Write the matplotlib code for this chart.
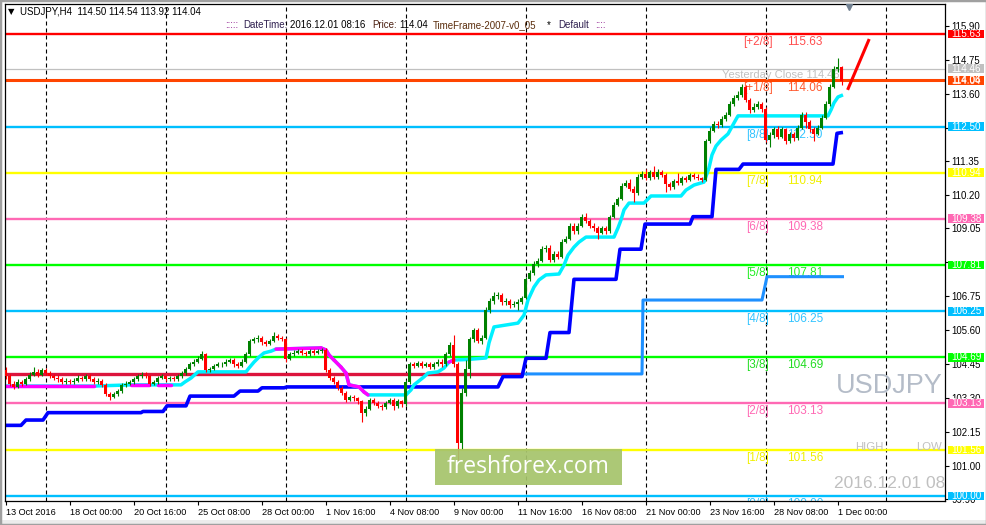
import numpy as np
import matplotlib.pyplot as plt
from matplotlib.collections import LineCollection
from matplotlib.patches import Rectangle

plt.rcParams['font.family'] = ['Liberation Sans', 'DejaVu Sans']

# ---- H4 candles, bar index counted from the first visible bar (13 Oct 2016) ----
first_open = 104.25
closes = [
    104.05, 103.80, 103.70, 103.85, 103.80, 103.95, 104.10, 104.20, 104.10, 104.25,
    104.15, 104.05, 104.00, 103.95, 103.85, 103.90, 103.85, 103.90, 104.00, 103.95,
    104.05, 103.95, 103.85, 103.90, 103.75, 103.45, 103.35, 103.45, 103.55, 103.75,
    103.80, 103.85, 103.95, 104.05, 104.10, 104.05, 103.80, 103.85, 104.00, 104.05,
    103.95, 104.00, 103.95, 104.05, 104.15, 104.30, 104.45, 104.55, 104.65, 104.80,
    104.25, 104.30, 104.40, 104.45, 104.45, 104.55, 104.60, 104.45, 104.40, 104.55,
    104.80, 105.25, 105.30, 105.35, 105.20, 105.15, 105.25, 105.40, 105.35, 105.30,
    104.65, 104.80, 104.85, 104.90, 104.85, 104.80, 104.90, 104.85, 104.90, 104.95,
    104.25, 104.00, 103.85, 103.65, 103.50, 103.25, 103.35, 103.30, 103.20, 102.80,
    102.95, 103.25, 103.15, 103.05, 103.00, 103.15, 103.25, 103.05, 103.20, 103.10,
    103.85, 104.45, 104.40, 104.50, 104.40, 104.45, 104.35, 104.45, 104.55, 104.45,
    104.80, 105.10, 104.45, 101.80, 103.50, 104.30, 105.30, 105.60, 105.25, 105.35,
    106.30, 106.60, 106.75, 106.80, 106.55, 106.60, 106.45, 106.50, 106.55, 106.70,
    107.35, 107.55, 107.85, 107.95, 108.35, 108.40, 108.00, 108.20, 108.10, 108.60,
    108.70, 109.15, 108.95, 109.15, 109.45, 109.30, 109.15, 109.05, 108.90, 109.05,
    108.95, 109.45, 109.85, 110.05, 110.50, 110.60, 110.40, 110.25, 110.80, 110.90,
    110.75, 110.95, 110.80, 110.95, 110.85, 110.55, 110.45, 110.65, 110.60, 110.75,
    110.70, 110.85, 110.80, 110.75, 110.70, 112.00, 112.35, 112.60, 112.55, 112.75,
    112.90, 113.25, 113.45, 113.55, 113.85, 113.40, 113.05, 113.15, 113.25, 113.10,
    112.05, 112.20, 112.40, 112.15, 112.40, 112.00, 112.25, 112.10, 112.45, 112.90,
    112.65, 112.40, 112.25, 112.45, 112.80, 113.25, 113.85, 114.45, 114.50, 114.04,
]
highs = [
    104.35, 104.12, 103.90, 103.95, 103.92, 104.02, 104.18, 104.38, 104.28, 104.32,
    104.33, 104.22, 104.12, 104.08, 104.02, 103.98, 103.97, 103.98, 104.08, 104.06,
    104.12, 104.12, 104.02, 103.98, 103.96, 103.82, 103.52, 103.52, 103.62, 103.82,
    103.88, 103.92, 104.02, 104.12, 104.20, 104.18, 104.10, 103.92, 104.06, 104.12,
    104.10, 104.07, 104.06, 104.12, 104.22, 104.37, 104.52, 104.62, 104.72, 104.90,
    104.85, 104.38, 104.47, 104.53, 104.52, 104.63, 104.68, 104.66, 104.52, 104.62,
    104.87, 105.32, 105.38, 105.45, 105.42, 105.27, 105.32, 105.55, 105.48, 105.42,
    105.36, 104.88, 104.93, 104.98, 104.96, 104.92, 104.97, 104.96, 104.98, 105.02,
    105.00, 104.32, 104.06, 103.92, 103.72, 103.56, 103.42, 103.42, 103.36, 103.26,
    103.04, 103.32, 103.33, 103.22, 103.12, 103.22, 103.33, 103.30, 103.27, 103.26,
    103.92, 104.55, 104.55, 104.58, 104.56, 104.53, 104.52, 104.52, 104.63, 104.62,
    104.88, 105.20, 105.45, 104.52, 103.65, 104.60, 105.38, 105.70, 105.68, 105.45,
    106.38, 106.70, 106.90, 106.90, 106.88, 106.70, 106.68, 106.60, 106.65, 106.78,
    107.42, 107.65, 107.95, 108.05, 108.45, 108.50, 108.48, 108.28, 108.28, 108.68,
    108.80, 109.22, 109.22, 109.23, 109.55, 109.58, 109.38, 109.22, 109.12, 109.12,
    109.12, 109.52, 109.93, 110.12, 110.60, 110.70, 110.72, 110.48, 110.90, 111.00,
    111.05, 111.03, 111.15, 111.05, 111.03, 110.92, 110.62, 110.72, 110.92, 110.82,
    110.82, 110.93, 110.92, 110.88, 110.80, 112.08, 112.50, 112.68, 112.70, 112.85,
    113.00, 113.35, 113.55, 113.70, 113.95, 113.92, 113.48, 113.30, 113.35, 113.32,
    113.15, 112.30, 112.50, 112.52, 112.48, 112.45, 112.33, 112.32, 112.55, 113.00,
    112.98, 112.72, 112.48, 112.55, 112.90, 113.35, 113.95, 114.55, 114.83, 114.54,
]
lows = [
    103.95, 103.72, 103.62, 103.65, 103.72, 103.75, 103.90, 104.05, 104.02, 104.05,
    104.08, 103.98, 103.92, 103.85, 103.78, 103.80, 103.78, 103.80, 103.85, 103.88,
    103.90, 103.88, 103.78, 103.80, 103.68, 103.38, 103.25, 103.30, 103.40, 103.50,
    103.70, 103.74, 103.80, 103.90, 104.00, 103.98, 103.72, 103.74, 103.80, 103.95,
    103.88, 103.90, 103.88, 103.90, 104.00, 104.10, 104.25, 104.40, 104.50, 104.60,
    104.18, 104.20, 104.25, 104.35, 104.38, 104.40, 104.50, 104.38, 104.33, 104.35,
    104.50, 104.75, 105.18, 105.22, 105.12, 105.08, 105.10, 105.20, 105.28, 105.24,
    104.55, 104.60, 104.74, 104.80, 104.78, 104.72, 104.74, 104.78, 104.80, 104.84,
    104.18, 103.92, 103.78, 103.58, 103.42, 103.18, 103.20, 103.22, 103.12, 102.50,
    102.72, 102.90, 103.08, 102.98, 102.92, 102.95, 103.10, 102.90, 102.98, 103.02,
    103.05, 103.80, 104.33, 104.35, 104.33, 104.35, 104.28, 104.30, 104.40, 104.38,
    104.40, 104.75, 104.38, 101.19, 101.60, 103.40, 104.00, 105.20, 105.18, 105.15,
    105.30, 106.20, 106.50, 106.65, 106.45, 106.45, 106.36, 106.38, 106.30, 106.48,
    106.65, 107.28, 107.48, 107.75, 107.90, 108.25, 107.92, 107.92, 108.02, 108.05,
    108.55, 108.65, 108.85, 108.88, 109.10, 109.22, 109.05, 108.96, 108.70, 108.85,
    108.88, 108.90, 109.40, 109.80, 110.00, 110.45, 110.32, 109.95, 110.20, 110.72,
    110.68, 110.68, 110.72, 110.72, 110.78, 110.30, 110.36, 110.40, 110.52, 110.52,
    110.62, 110.65, 110.72, 110.68, 110.62, 110.65, 111.95, 112.30, 112.45, 112.50,
    112.68, 112.85, 113.20, 113.40, 113.50, 113.32, 112.95, 112.98, 113.08, 113.00,
    111.96, 111.82, 112.12, 112.08, 112.10, 111.90, 111.95, 112.02, 112.05, 112.40,
    112.45, 112.32, 112.00, 112.20, 112.40, 112.75, 113.20, 113.80, 114.35, 113.92,
]

# ---- Murrey math levels ----
level_names = ['[+2/8]', '[+1/8]', '[8/8]', '[7/8]', '[6/8]', '[5/8]',
               '[4/8]', '[3/8]', '[2/8]', '[1/8]', '[0/8]']
level_prices = [115.63, 114.06, 112.50, 110.94, 109.38, 107.81,
                106.25, 104.69, 103.13, 101.56, 100.00]
level_colors = ['#ff0000', '#ff4500', '#00bfff', '#ffff00', '#ff69b4', '#00ff00',
                '#00bfff', '#00ff00', '#ff69b4', '#ffff00', '#00bfff']
label_colors = ['#ff4d4d', '#ff5a30', '#33c4ff', '#f0f000', '#ff69b4', '#22ee22',
                '#33c4ff', '#22dd22', '#ff69b4', '#f0f000', '#33c4ff']
level_widths = [1.7, 2.2, 1.7, 1.7, 1.7, 1.7, 1.7, 1.7, 1.7, 1.7, 1.7]

yesterday_close = 114.46
last_price = 114.04

# trailing line (cyan, magenta where flagged)
trail_bars = [0, 22, 31.25, 35.75, 38, 41.25, 43.75, 44.75, 46.25, 48, 60, 60.75, 62,
              63.25, 64.5, 66.25, 67.5, 78.75, 80, 80.75, 82, 83.75, 85, 85.75, 88.25,
              89.5, 90.5, 100, 101.25, 102, 104.5, 105.5, 108, 109.5, 110.75, 112, 115.5,
              120, 120.75, 122, 128, 129.5, 130.5, 132, 133.25, 135, 138.25, 139.5, 140.5,
              142, 143.25, 145, 152, 153, 153.75, 154.5, 155.75, 159.5, 161.25, 168.75,
              170, 172, 174.5, 175.75, 176.5, 177.5, 178.75, 180.5, 182, 183, 205.5,
              206.25, 207, 208, 209.25]
trail_prices = [103.72, 103.72, 103.76, 103.76, 103.76, 103.76, 103.76, 103.86, 103.99,
                104.20, 104.20, 104.33, 104.53, 104.70, 104.84, 104.90, 104.97, 105.01,
                104.94, 104.77, 104.60, 104.36, 104.16, 103.76, 103.69, 103.52, 103.42,
                103.42, 103.59, 103.76, 104.03, 104.16, 104.20, 104.33, 104.53, 104.60,
                104.62, 104.67, 105.18, 105.72, 105.85, 106.12, 106.63, 107.07, 107.31,
                107.48, 107.51, 107.81, 108.15, 108.42, 108.59, 108.76, 108.76, 109.07,
                109.34, 109.68, 109.91, 109.91, 110.15, 110.15, 110.35, 110.52, 110.62,
                111.10, 111.54, 111.84, 112.04, 112.25, 112.62, 112.86, 112.86, 113.06,
                113.30, 113.50, 113.57]
trail_down = [1, 0, 1, 0, 1, 0, 0, 0, 0, 0, 0, 0, 0, 0, 0, 0, 1, 1, 1, 1, 1, 1, 1,
              1, 1, 1, 0, 0, 0, 0, 0, 0, 0, 0, 1, 0, 0, 0, 0, 0, 0, 0, 0, 0, 0, 0, 0,
              0, 0, 0, 0, 0, 0, 0, 0, 0, 0, 0, 0, 0, 0, 0, 0, 0, 0, 0, 0, 0, 0, 0, 0,
              0, 0, 0]

# blue stepped stop line
stop_bars = [0, 3.75, 5, 9.25, 10.5, 33.75, 34.25, 39.25, 40.25, 45, 46, 57, 58.5, 63,
             64, 69.5, 70.25, 123, 124.25, 129, 130, 135, 136, 140.75, 142, 152.5,
             153.5, 158.75, 159.75, 171, 171.75, 176.5, 177.5, 183.25, 184.25, 206.75,
             207.75, 209.25]
stop_prices = [102.39, 102.39, 102.57, 102.57, 102.82, 102.82, 102.86, 102.86, 103.05,
               103.05, 103.38, 103.38, 103.55, 103.55, 103.66, 103.66, 103.69, 103.69,
               104.04, 104.04, 104.66, 104.66, 105.53, 105.53, 107.33, 107.33, 108.35,
               108.35, 109.20, 109.20, 109.45, 109.45, 111.05, 111.05, 111.23, 111.23,
               112.27, 112.30]

# crimson / dodger-blue line
crimson_bars = [0, 129.25]
crimson_prices = [104.13, 104.13]
dodger_bars = [129.25, 159, 159.25, 189, 190.25, 209.5]
dodger_prices = [104.13, 104.13, 106.63, 106.63, 107.42, 107.42]

# red projection
ray_bars = [210.4, 215.8]
ray_prices = [113.74, 115.46]

time_ticks = [0, 16, 32, 48, 64, 80, 96, 112, 128, 144, 160, 176, 192, 208]
time_labels = ['13 Oct 2016', '18 Oct 00:00', '20 Oct 16:00', '25 Oct 08:00',
               '28 Oct 00:00', '1 Nov 16:00', '4 Nov 08:00', '9 Nov 00:00',
               '11 Nov 16:00', '16 Nov 08:00', '21 Nov 00:00', '23 Nov 16:00',
               '28 Nov 08:00', '1 Dec 00:00']
week_bars = [10, 40, 70, 100, 130, 160, 190, 220]
price_ticks = [115.90, 114.75, 113.60, 112.45, 111.35, 110.20, 109.05, 107.90,
               106.75, 105.60, 104.45, 103.30, 102.15, 101.00, 99.90]
# labels fully covered by the level tags in the original
price_tick_labels = ['115.90', '114.75', '113.60', '', '111.35', '110.20', '109.05', '',
                     '106.75', '105.60', '104.45', '103.30', '102.15', '101.00', '99.90']

W, H = 987, 525
fig = plt.figure(figsize=(W / 100, H / 100), dpi=100)
fig.patch.set_facecolor('white')
ax = fig.add_axes([5 / W, 24 / H, 940 / W, 497 / H])
ax.set_facecolor('white')
ax.set_xlim(-0.25, 234.75)
ax.set_ylim(99.831, 116.645)


def axf(x, y):
    return (x - 5) / 940, (501 - y) / 497


# weekly separators
for k in week_bars:
    ax.axvline(k, color='black', lw=0.8, ls=(0, (3.6, 2.7)), zorder=0.8)

# levels
for name, p, c, tc, lw in zip(level_names, level_prices, level_colors, label_colors, level_widths):
    ax.axhline(p, color=c, lw=lw, zorder=1)
    ax.text(188, p - 0.27, name, color=tc, fontsize=8.5, ha='center', va='center',
            zorder=1.2, clip_on=True)
    ax.text(195.3, p - 0.27, f'{p:.2f}', color=tc, fontsize=8.5, ha='left', va='center',
            zorder=1.2, clip_on=True)
ax.axhline(yesterday_close, color='#c0c0c0', lw=0.9, zorder=1)
ax.text(208.5, yesterday_close - 0.22, f'Yesterday Close {yesterday_close:.2f}', color='#c0c0c0',
        fontsize=8, ha='right', va='center', zorder=1.2)

# indicator lines
ax.plot(crimson_bars, crimson_prices, color='#dc143c', lw=2.4, zorder=2, solid_capstyle='butt')
ax.plot(dodger_bars, dodger_prices, color='#1e90ff', lw=2.2, zorder=2, solid_capstyle='butt')
ax.plot(stop_bars, stop_prices, color='#0000ff', lw=2.6, zorder=2.2, solid_capstyle='butt')
ax.plot(trail_bars, trail_prices, color='#00f0ff', lw=2.5, zorder=2.3, solid_capstyle='butt')
segs = [[(trail_bars[i], trail_prices[i]), (trail_bars[i + 1], trail_prices[i + 1])]
        for i in range(len(trail_bars) - 1) if trail_down[i]]
ax.add_collection(LineCollection(segs, colors='#ff00ff', linewidths=2.5, zorder=2.4,
                                 capstyle='round'))

# candles
opens = [first_open] + closes[:-1]
o = np.array(opens)
c = np.array(closes)
idx = np.arange(len(c))
cols = np.where(c >= o, '#008000', '#ff0000')
ax.vlines(idx, lows, highs, colors=cols, lw=0.8, zorder=3)
ax.bar(idx, np.maximum(np.abs(c - o), 0.025), bottom=np.minimum(o, c), width=0.75,
       color=cols, linewidth=0, zorder=3.1)

ax.plot(ray_bars, ray_prices, color='#ff0000', lw=2.2, zorder=4, solid_capstyle='butt')

# watermark / overlays
x0, y0 = axf(435, 485)
x1, y1 = axf(622, 449)
ax.add_patch(Rectangle((x0, y0), x1 - x0, y1 - y0, transform=ax.transAxes,
                       fc='#a6c46c', ec='none', alpha=0.93, zorder=5))
ax.text(*axf(528, 467), 'freshforex.com', transform=ax.transAxes, color='white',
        fontsize=16.5, family=['Open Sans', 'DejaVu Sans'], ha='center', va='center', zorder=5.1)
ax.text(*axf(943, 386), 'USDJPY', transform=ax.transAxes, color='#b4bcc8', fontsize=19.5,
        ha='right', va='center', zorder=5)
ax.text(*axf(869, 447), 'HIGH', transform=ax.transAxes, color='#c0c0c0', fontsize=8.2,
        ha='center', va='center', zorder=5)
ax.text(*axf(929, 447), 'LOW', transform=ax.transAxes, color='#c0c0c0', fontsize=8.2,
        ha='center', va='center', zorder=5)
ax.text(*axf(834, 484), '2016.12.01 08:16', transform=ax.transAxes, color='#c0c0c0',
        fontsize=12.5, ha='left', va='center', zorder=5, clip_on=True)
ax.plot(*axf(849, 7), marker='v', ms=5, color='#708090', transform=ax.transAxes,
        clip_on=False, zorder=6)

# axes styling
for s in ax.spines.values():
    s.set_color('black')
    s.set_linewidth(0.9)
ax.yaxis.tick_right()
ax.set_yticks(price_ticks)
ax.set_yticklabels(price_tick_labels)
ax.tick_params(axis='y', direction='out', length=3, width=0.8, pad=1.8, labelsize=6.9)
ax.set_xticks(time_ticks)
ax.set_xticklabels(time_labels, ha='left')
ax.tick_params(axis='x', direction='out', length=3, width=0.8, pad=1.8, labelsize=6.6)

# price tags on the right scale
ytr = ax.get_yaxis_transform()
tags = [(last_price, '#000000')] + list(zip(level_prices, level_colors)) + [(yesterday_close, '#c0c0c0')]
for p, col in tags:
    ax.add_patch(Rectangle((1 + 2.7 / 940, p - 0.145), 36.6 / 940, 0.29, transform=ytr,
                           fc=col, ec='none', clip_on=False, zorder=6))
    ax.text(1 + 21 / 940, p, f'{p:.2f}', transform=ytr, color='white', fontsize=7.1,
            ha='center', va='center', clip_on=False, zorder=6.1)


# header
def hdr(x, y, s, color='black', size=7.0, **kw):
    fig.text(x / W, 1 - y / H, s, color=color, fontsize=size, ha='left', va='center', **kw)


hdr(8, 12, '▼', size=6, family=['DejaVu Sans'])
hdr(20, 12, 'USDJPY,H4  114.50 114.54 113.92 114.04')
hdr(225, 25, ':::::', color='#800080')
hdr(243, 25, 'DateTime:', color='#2e1f4f')
hdr(290, 25, '2016.12.01 08:16')
hdr(372, 25, 'Price:', color='#4a1f10')
hdr(399, 25, '114.04')
hdr(433, 25, 'TimeFrame-2007-v0_05', color='#5a2d0c')
hdr(547, 25, '*')
hdr(558, 25, 'Default', color='#2e1f4f')
hdr(595, 25, '::::', color='#800080')

# window frame
fig.patches.append(Rectangle((0, 0), 1, 5 / H, transform=fig.transFigure, fc='#ececec',
                             ec='none', zorder=0))
fig.patches.append(Rectangle((0, 0), 1, 1, transform=fig.transFigure, fill=False,
                             ec='#a0a0a0', lw=2.5, zorder=10))

fig.savefig('out.png', dpi=100)
